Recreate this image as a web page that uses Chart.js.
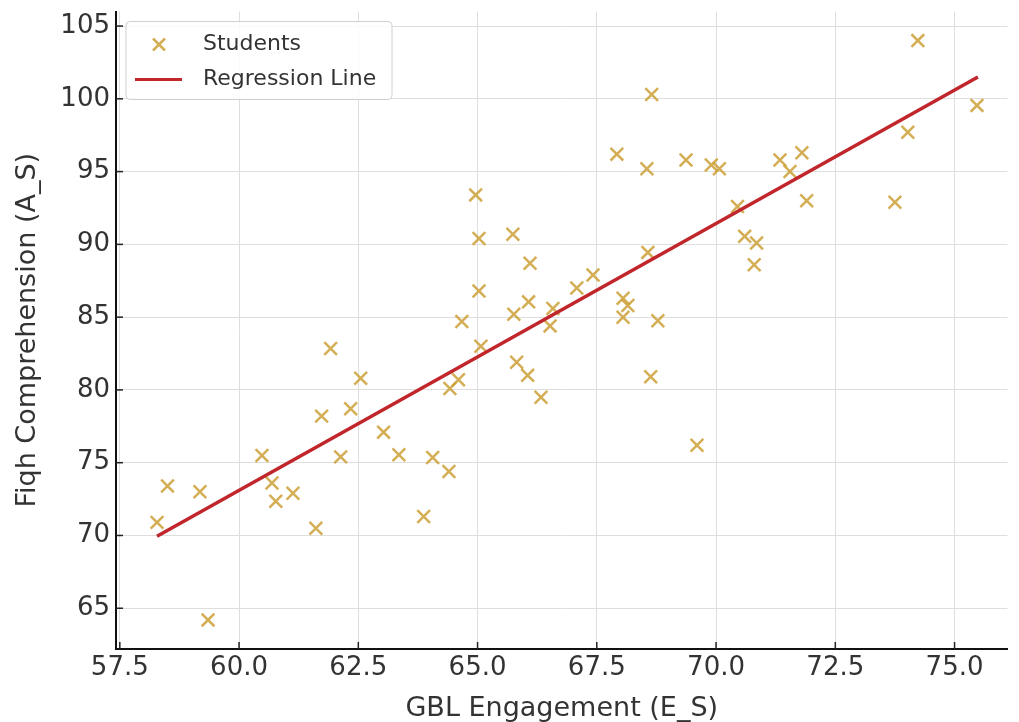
<!DOCTYPE html>
<html>
<head>
<meta charset="utf-8">
<script src="https://cdn.jsdelivr.net/npm/chart.js@4.4.1/dist/chart.umd.min.js"></script>
<style>
  body { margin: 0; background: #fff; overflow: hidden; }
  #chartContainer { width: 1019px; height: 722px; }
</style>
</head>
<body>
<div id="chartContainer"><canvas id="fiqhChart"></canvas></div>
<script>
//student scores, x = engagement, y = comprehension
const engagement = [58.28, 58.50, 59.18, 59.35, 60.48, 60.69, 60.77, 61.13, 61.61, 61.73,
    61.92, 62.13, 62.34, 62.55, 63.03, 63.35, 63.87, 64.06, 64.40, 64.42,
    64.60, 64.67, 64.96, 65.03, 65.03, 65.07, 65.74, 65.76, 65.82, 66.05,
    66.10, 66.07, 66.33, 66.52, 66.58, 67.08, 67.42, 67.92, 68.05, 68.15,
    68.05, 68.55, 68.57, 68.63, 68.65, 68.78, 69.37, 69.60, 69.90, 70.07,
    70.45, 70.60, 70.85, 70.80, 71.34, 71.55, 71.80, 71.90, 73.75, 74.02,
    74.23, 75.47];
const comprehension = [70.9, 73.4, 73.0, 64.2, 75.5, 73.6, 72.35, 72.9, 70.5, 78.2,
    82.85, 75.4, 78.7, 80.8, 77.1, 75.55, 71.3, 75.35, 74.4, 80.1,
    80.7, 84.7, 93.4, 90.4, 86.8, 83.0, 90.7, 85.2, 81.9, 81.0,
    88.7, 86.05, 79.5, 84.4, 85.6, 87.0, 87.9, 96.2, 86.3, 85.8,
    85.0, 95.2, 89.45, 80.9, 100.3, 84.75, 95.8, 76.2, 95.45, 95.2,
    92.6, 90.55, 90.1, 88.6, 95.8, 95.0, 96.3, 93.0, 92.9, 97.7,
    104.0, 99.55];
//end points of the fitted line
const regressionX = [58.28, 75.49];
const regressionY = [69.95, 101.5];

const fontFamily = "'DejaVu Sans', sans-serif";
const markerColor = "rgba(205, 160, 55, 0.85)";
const lineColor = "#c0262b";

function toPoints(xs, ys) {
    let points = [];
    for (let i = 0; i < xs.length; i++) {
        points.push({x: xs[i], y: ys[i]});
    }
    return points;
}

//matplotlib style ticks that point into the plot
const inwardTicks = {
    id: "inwardTicks",
    afterDraw(chart) {
        const ctx = chart.ctx;
        const area = chart.chartArea;
        ctx.save();
        ctx.strokeStyle = "#222";
        ctx.lineWidth = 1.5;
        chart.scales.x.ticks.forEach(t => {
            const px = chart.scales.x.getPixelForValue(t.value);
            ctx.beginPath();
            ctx.moveTo(px, area.bottom);
            ctx.lineTo(px, area.bottom - 7);
            ctx.stroke();
        });
        chart.scales.y.ticks.forEach(t => {
            const py = chart.scales.y.getPixelForValue(t.value);
            ctx.beginPath();
            ctx.moveTo(area.left, py);
            ctx.lineTo(area.left + 7, py);
            ctx.stroke();
        });
        ctx.restore();
    }
};

//boxed legend in the upper left corner of the plot
const boxLegend = {
    id: "boxLegend",
    afterDraw(chart) {
        const ctx = chart.ctx;
        const area = chart.chartArea;
        const left = area.left + 10, top = area.top + 10;
        const width = 266, height = 78;
        ctx.save();
        ctx.fillStyle = "rgba(255,255,255,0.85)";
        ctx.strokeStyle = "#d0d0d0";
        ctx.lineWidth = 1;
        ctx.beginPath();
        ctx.roundRect(left, top, width, height, 4);
        ctx.fill();
        ctx.stroke();

        const sets = chart.data.datasets;
        ctx.font = "22px " + fontFamily;
        ctx.fillStyle = "#333";
        ctx.textBaseline = "middle";
        //first row - the scatter marker
        const row1 = top + 23, row2 = top + 58;
        ctx.strokeStyle = sets[0].borderColor;
        ctx.lineWidth = 2.5;
        ctx.beginPath();
        ctx.moveTo(left + 27, row1 - 6);
        ctx.lineTo(left + 39, row1 + 6);
        ctx.moveTo(left + 39, row1 - 6);
        ctx.lineTo(left + 27, row1 + 6);
        ctx.stroke();
        ctx.fillText(sets[0].label, left + 77, row1);
        //second row - the regression line
        ctx.strokeStyle = sets[1].borderColor;
        ctx.lineWidth = 3;
        ctx.beginPath();
        ctx.moveTo(left + 9, row2);
        ctx.lineTo(left + 56, row2);
        ctx.stroke();
        ctx.fillText(sets[1].label, left + 77, row2);
        ctx.restore();
    }
};

const ctx = document.getElementById("fiqhChart").getContext("2d");
new Chart(ctx, {
    type: "scatter",
    data: {
        datasets: [{
            label: "Students",
            data: toPoints(engagement, comprehension),
            pointStyle: "crossRot",
            pointRadius: 9,
            pointBorderWidth: 2.5,
            borderColor: markerColor,
            backgroundColor: markerColor,
            order: 1
        }, {
            label: "Regression Line",
            data: toPoints(regressionX, regressionY),
            showLine: true,
            pointRadius: 0,
            borderColor: lineColor,
            borderWidth: 3.5,
            order: 0
        }]
    },
    options: {
        responsive: true,
        maintainAspectRatio: false,
        animation: false,
        layout: {padding: {top: 10, right: 1, left: 0, bottom: 0}},
        plugins: {
            legend: {display: false},
            tooltip: {enabled: false}
        },
        scales: {
            x: {
                type: "linear",
                min: 57.42,
                max: 76.11,
                afterFit(scale) {
                    scale.height = 73;
                },
                grid: {color: "#dedede", lineWidth: 1, drawTicks: false},
                border: {color: "#111", width: 2},
                ticks: {
                    stepSize: 2.5,
                    includeBounds: false,
                    padding: 4,
                    color: "#333",
                    font: {family: fontFamily, size: 26},
                    callback: v => v.toFixed(1)
                },
                title: {
                    display: true,
                    text: "GBL Engagement (E_S)",
                    color: "#333",
                    padding: {top: 0, bottom: 0},
                    font: {family: fontFamily, size: 27, lineHeight: 1}
                }
            },
            y: {
                type: "linear",
                min: 62.2,
                max: 106.0,
                afterFit(scale) {
                    scale.width = 116;
                    scale.paddingTop = 0;
                    scale.paddingBottom = 0;
                },
                grid: {color: "#dedede", lineWidth: 1, drawTicks: false},
                border: {color: "#111", width: 2},
                ticks: {
                    stepSize: 5,
                    includeBounds: false,
                    padding: 6,
                    color: "#333",
                    font: {family: fontFamily, size: 26}
                },
                title: {
                    display: true,
                    text: "Fiqh Comprehension (A_S)",
                    color: "#333",
                    padding: {top: 14, bottom: 0},
                    font: {family: fontFamily, size: 27, lineHeight: 1}
                }
            }
        }
    },
    plugins: [inwardTicks, boxLegend]
});
</script>
</body>
</html>
